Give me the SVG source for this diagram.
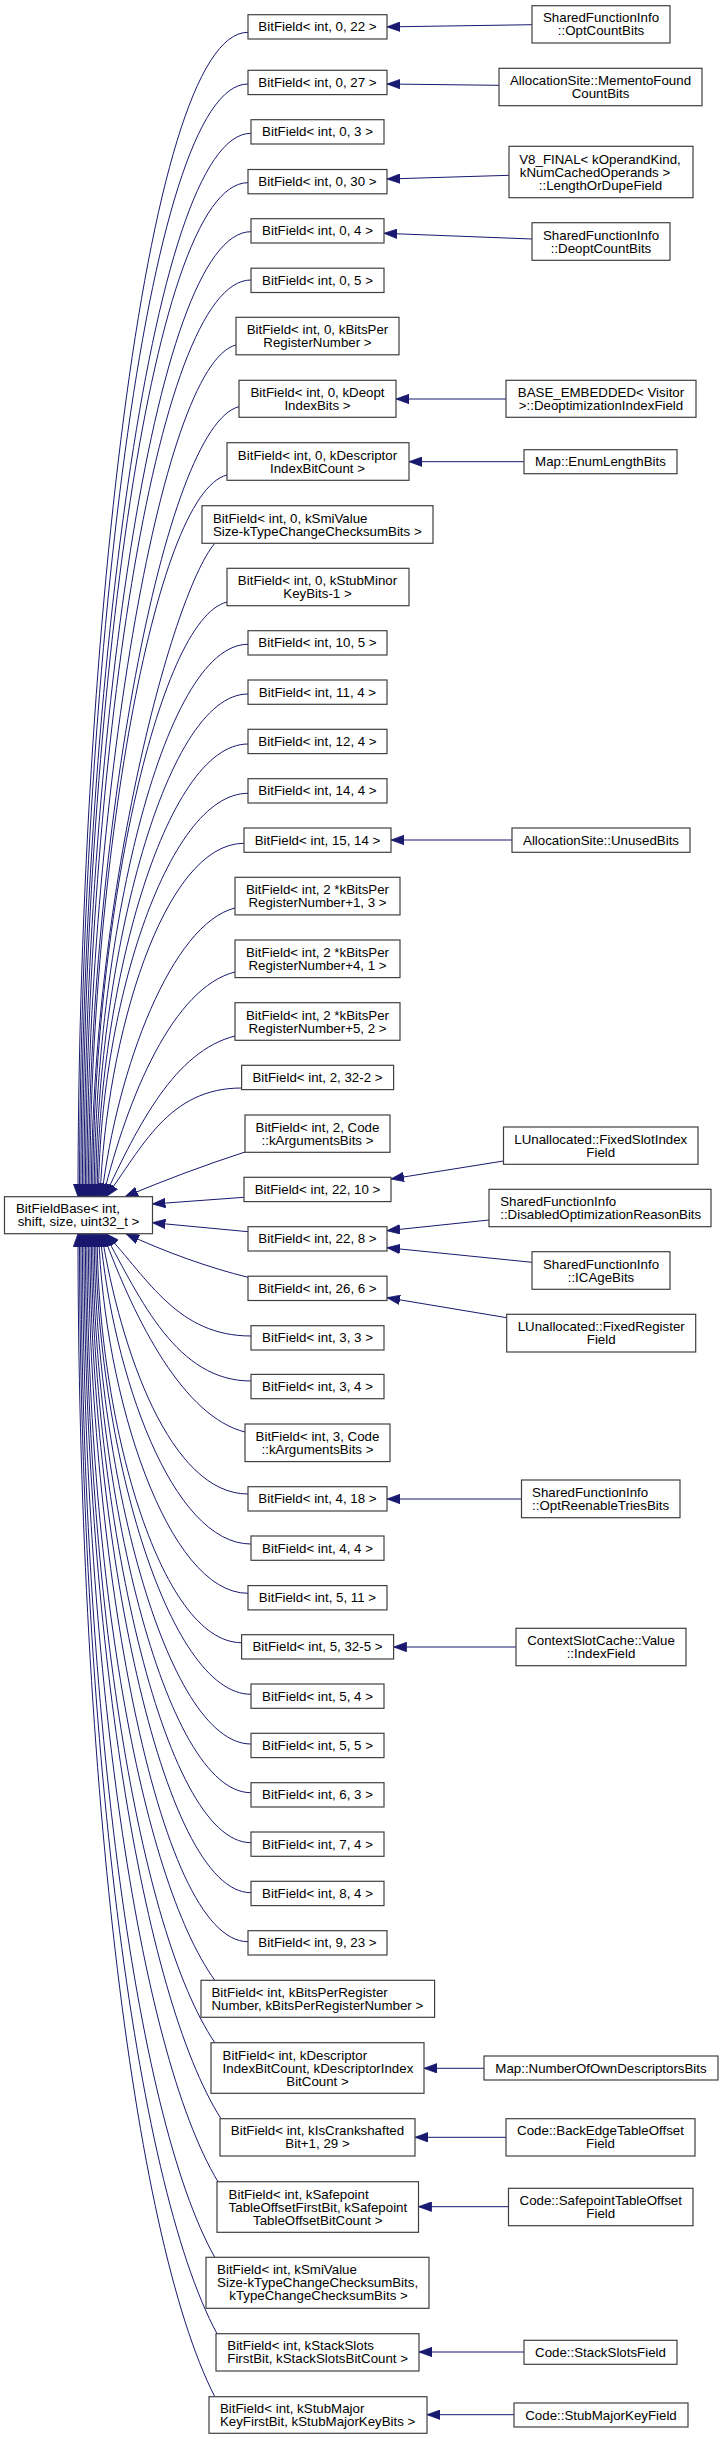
<svg xmlns="http://www.w3.org/2000/svg" width="723" height="2439" viewBox="0 0 723 2439">
<style>
.n rect{fill:#fff;stroke:#404040;stroke-width:1.2}
text{font-family:"Liberation Sans",Arial,Helvetica,sans-serif;font-size:13.3px;fill:#000}
.c{text-anchor:middle}
.l{text-anchor:start}
#edges path{fill:none;stroke:#191970;stroke-width:1;marker-end:url(#ah)}
</style>
<defs>
<marker id="ah" markerUnits="userSpaceOnUse" markerWidth="14" markerHeight="10" viewBox="0 0 14 10" refX="13" refY="5" orient="auto">
<path d="M0,0.3 L13,5 L0,9.7 z" fill="#191970" stroke="#191970" stroke-width="0.8"/>
</marker>
</defs>
<rect width="723" height="2439" fill="#fff"/>
<g id="edges">
<path d="M248,32.3 C143,32.3 78,672.7 78,1196.7"/>
<path d="M248,84 C144.6,84 79.5,696 79.5,1196.7"/>
<path d="M251,133.3 C149.1,133.3 80.9,718.2 80.9,1196.7"/>
<path d="M248,182.7 C147.6,182.7 82.4,740.4 82.4,1196.7"/>
<path d="M251,231.7 C152,231.7 83.9,762.4 83.9,1196.7"/>
<path d="M251,280 C153.5,280 85.4,784.2 85.4,1196.7"/>
<path d="M236,345 C159.5,364.1 86.8,813.4 86.8,1196.7"/>
<path d="M239,406.7 C164,425.4 88.3,841.2 88.3,1196.7"/>
<path d="M227,475 C153.6,493.3 89.8,871.9 89.8,1196.7"/>
<path d="M214.8,543.3 C170,597 91.3,902.7 91.3,1196.7"/>
<path d="M227,602 C156.8,619.6 92.7,929.1 92.7,1196.7"/>
<path d="M248,644.3 C161.4,644.3 94.2,948.1 94.2,1196.7"/>
<path d="M248,694 C162.9,694 95.7,970.5 95.7,1196.7"/>
<path d="M248,744 C164.4,744 97.2,993 97.2,1196.7"/>
<path d="M248,793.3 C165.9,793.3 98.6,1015.2 98.6,1196.7"/>
<path d="M244,843.3 C163.4,843.3 106,1037.7 100.1,1196.7"/>
<path d="M235,908 C172,923.7 117.3,1066.8 101.6,1196.7"/>
<path d="M235,972 C173.6,987.3 127.8,1095.6 103.1,1196.7"/>
<path d="M235,1036 C175.2,1051 138.4,1124.4 104.6,1196.7"/>
<path d="M241.6,1088 C168.3,1088 142.3,1147.8 106,1196.7"/>
<path d="M245,1152 C205,1165 165,1180 125,1196.7"/>
<path d="M244,1197.3 L152.4,1204"/>
<path d="M248,1231.7 L152.4,1222.7"/>
<path d="M248,1277.3 C210,1268 165,1252 126,1233.7"/>
<path d="M251,1336 C177.9,1336 148.8,1279.7 106,1233.7"/>
<path d="M251,1381 C176.6,1381 141,1300 104.5,1233.7"/>
<path d="M245,1432 C184.2,1416.8 135.8,1322.9 103.1,1233.7"/>
<path d="M248,1494 C170.2,1494 120.8,1350.8 101.6,1233.7"/>
<path d="M251,1544 C171.7,1544 112.9,1373.3 100.1,1233.7"/>
<path d="M248,1593.3 C167.2,1593.3 104.1,1395.5 98.6,1233.7"/>
<path d="M241.6,1642.7 C159.3,1642.7 97.2,1417.7 97.2,1233.7"/>
<path d="M251,1694.3 C167.2,1694.3 95.7,1441 95.7,1233.7"/>
<path d="M251,1744 C165.7,1744 94.2,1463.3 94.2,1233.7"/>
<path d="M251,1792.7 C164.2,1792.7 92.7,1485.3 92.7,1233.7"/>
<path d="M251,1842.7 C162.7,1842.7 91.3,1507.7 91.3,1233.7"/>
<path d="M251,1892.7 C161.2,1892.7 89.8,1530.3 89.8,1233.7"/>
<path d="M248,1941.7 C156.8,1941.7 88.3,1552.3 88.3,1233.7"/>
<path d="M214.8,1980.3 C139.9,1875.8 86.8,1569.7 86.8,1233.7"/>
<path d="M214.8,2042.7 C138.6,1929.4 85.4,1597.7 85.4,1233.7"/>
<path d="M221,2118.7 C142.3,1994.8 83.9,1632 83.9,1233.7"/>
<path d="M218,2181.7 C138,2049 82.4,1660.3 82.4,1233.7"/>
<path d="M214.8,2257.3 C134.3,2114 80.9,1694.3 80.9,1233.7"/>
<path d="M217,2333.7 C134,2179.7 79.5,1728.7 79.5,1233.7"/>
<path d="M214.8,2396.7 C131.5,2233.9 78,1757.1 78,1233.7"/>
<path d="M532,24.7 L387,26.9"/>
<path d="M499,85.3 L387,84"/>
<path d="M509,175.3 L387,179"/>
<path d="M532,239 L384,233.3"/>
<path d="M506,399 L396,399"/>
<path d="M524,461.7 L409,461.7"/>
<path d="M512,840 L391,840"/>
<path d="M503.5,1161 L391,1179"/>
<path d="M489,1220 L387,1230.7"/>
<path d="M532,1262.3 L387,1247.7"/>
<path d="M506.7,1317.7 L387,1297.7"/>
<path d="M521.5,1499 L387,1499"/>
<path d="M516,1647 L393.6,1647"/>
<path d="M484,2068.3 L424,2068.3"/>
<path d="M506,2137.3 L415,2137.3"/>
<path d="M508.5,2206.7 L418.5,2206.7"/>
<path d="M524,2352 L419,2352"/>
<path d="M514,2414.7 L427,2414.7"/>
</g>
<g id="base" class="n"><rect x="4.5" y="1196.7" width="148" height="37"/><text class="l" x="16" y="1213.3">BitFieldBase&lt; int,</text><text class="c" x="78.5" y="1226.3">shift, size, uint32_t &gt;</text></g>
<g id="n1" class="n"><rect x="248" y="14.7" width="139" height="24.3"/><text class="c" x="317.5" y="31.45">BitField&lt; int, 0, 22 &gt;</text></g>
<g id="n2" class="n"><rect x="248" y="70.3" width="139" height="24.3"/><text class="c" x="317.5" y="87.05">BitField&lt; int, 0, 27 &gt;</text></g>
<g id="n3" class="n"><rect x="251" y="119.7" width="133" height="24.3"/><text class="c" x="317.5" y="136.45">BitField&lt; int, 0, 3 &gt;</text></g>
<g id="n4" class="n"><rect x="248" y="169.5" width="139" height="24.3"/><text class="c" x="317.5" y="186.25">BitField&lt; int, 0, 30 &gt;</text></g>
<g id="n5" class="n"><rect x="251" y="218.7" width="133" height="24.3"/><text class="c" x="317.5" y="235.45">BitField&lt; int, 0, 4 &gt;</text></g>
<g id="n6" class="n"><rect x="251" y="268.2" width="133" height="24.3"/><text class="c" x="317.5" y="284.95">BitField&lt; int, 0, 5 &gt;</text></g>
<g id="n7" class="n"><rect x="236" y="317.3" width="163" height="37.5"/><text class="c" x="317.5" y="334.1">BitField&lt; int, 0, kBitsPer</text><text class="c" x="317.5" y="347.1">RegisterNumber &gt;</text></g>
<g id="n8" class="n"><rect x="239" y="380.3" width="157" height="37"/><text class="c" x="317.5" y="396.9">BitField&lt; int, 0, kDeopt</text><text class="c" x="317.5" y="409.9">IndexBits &gt;</text></g>
<g id="n9" class="n"><rect x="227" y="442.7" width="182" height="37.6"/><text class="c" x="317.5" y="459.6">BitField&lt; int, 0, kDescriptor</text><text class="c" x="317.5" y="472.6">IndexBitCount &gt;</text></g>
<g id="n10" class="n"><rect x="202" y="505.7" width="231" height="37.6"/><text class="l" x="212.9" y="522.6">BitField&lt; int, 0, kSmiValue</text><text class="l" x="212.9" y="535.6">Size-kTypeChangeChecksumBits &gt;</text></g>
<g id="n11" class="n"><rect x="227" y="568.3" width="182" height="37.4"/><text class="c" x="317.5" y="585.1">BitField&lt; int, 0, kStubMinor</text><text class="c" x="317.5" y="598.1">KeyBits-1 &gt;</text></g>
<g id="n12" class="n"><rect x="248" y="630.7" width="139" height="24.3"/><text class="c" x="317.5" y="647.45">BitField&lt; int, 10, 5 &gt;</text></g>
<g id="n13" class="n"><rect x="248" y="680" width="139" height="24.3"/><text class="c" x="317.5" y="696.75">BitField&lt; int, 11, 4 &gt;</text></g>
<g id="n14" class="n"><rect x="248" y="729.3" width="139" height="24.3"/><text class="c" x="317.5" y="746.05">BitField&lt; int, 12, 4 &gt;</text></g>
<g id="n15" class="n"><rect x="248" y="778.7" width="139" height="24.3"/><text class="c" x="317.5" y="795.45">BitField&lt; int, 14, 4 &gt;</text></g>
<g id="n16" class="n"><rect x="244" y="828" width="147" height="24.3"/><text class="c" x="317.5" y="844.75">BitField&lt; int, 15, 14 &gt;</text></g>
<g id="n17" class="n"><rect x="235" y="877.3" width="165" height="37.6"/><text class="c" x="317.5" y="894.2">BitField&lt; int, 2 *kBitsPer</text><text class="c" x="317.5" y="907.2">RegisterNumber+1, 3 &gt;</text></g>
<g id="n18" class="n"><rect x="235" y="940" width="165" height="37.6"/><text class="c" x="317.5" y="956.9">BitField&lt; int, 2 *kBitsPer</text><text class="c" x="317.5" y="969.9">RegisterNumber+4, 1 &gt;</text></g>
<g id="n19" class="n"><rect x="235" y="1002.7" width="165" height="37.6"/><text class="c" x="317.5" y="1019.6">BitField&lt; int, 2 *kBitsPer</text><text class="c" x="317.5" y="1032.6">RegisterNumber+5, 2 &gt;</text></g>
<g id="n20" class="n"><rect x="241.6" y="1065.3" width="152" height="24.3"/><text class="c" x="317.5" y="1082.05">BitField&lt; int, 2, 32-2 &gt;</text></g>
<g id="n21" class="n"><rect x="245" y="1115" width="145" height="37.3"/><text class="c" x="317.5" y="1131.75">BitField&lt; int, 2, Code</text><text class="c" x="317.5" y="1144.75">::kArgumentsBits &gt;</text></g>
<g id="n22" class="n"><rect x="244" y="1177.3" width="147" height="24.3"/><text class="c" x="317.5" y="1194.05">BitField&lt; int, 22, 10 &gt;</text></g>
<g id="n23" class="n"><rect x="248" y="1226.7" width="139" height="24.3"/><text class="c" x="317.5" y="1243.45">BitField&lt; int, 22, 8 &gt;</text></g>
<g id="n24" class="n"><rect x="248" y="1276.2" width="139" height="24.3"/><text class="c" x="317.5" y="1292.95">BitField&lt; int, 26, 6 &gt;</text></g>
<g id="n25" class="n"><rect x="251" y="1325.7" width="133" height="24.3"/><text class="c" x="317.5" y="1342.45">BitField&lt; int, 3, 3 &gt;</text></g>
<g id="n26" class="n"><rect x="251" y="1374.4" width="133" height="24.3"/><text class="c" x="317.5" y="1391.15">BitField&lt; int, 3, 4 &gt;</text></g>
<g id="n27" class="n"><rect x="245" y="1424" width="145" height="37.6"/><text class="c" x="317.5" y="1440.9">BitField&lt; int, 3, Code</text><text class="c" x="317.5" y="1453.9">::kArgumentsBits &gt;</text></g>
<g id="n28" class="n"><rect x="248" y="1486.7" width="139" height="24.3"/><text class="c" x="317.5" y="1503.45">BitField&lt; int, 4, 18 &gt;</text></g>
<g id="n29" class="n"><rect x="251" y="1536" width="133" height="24.3"/><text class="c" x="317.5" y="1552.75">BitField&lt; int, 4, 4 &gt;</text></g>
<g id="n30" class="n"><rect x="248" y="1585.6" width="139" height="24.3"/><text class="c" x="317.5" y="1602.35">BitField&lt; int, 5, 11 &gt;</text></g>
<g id="n31" class="n"><rect x="241.6" y="1634.7" width="152" height="24.3"/><text class="c" x="317.5" y="1651.45">BitField&lt; int, 5, 32-5 &gt;</text></g>
<g id="n32" class="n"><rect x="251" y="1684" width="133" height="24.3"/><text class="c" x="317.5" y="1700.75">BitField&lt; int, 5, 4 &gt;</text></g>
<g id="n33" class="n"><rect x="251" y="1733.3" width="133" height="24.3"/><text class="c" x="317.5" y="1750.05">BitField&lt; int, 5, 5 &gt;</text></g>
<g id="n34" class="n"><rect x="251" y="1782.7" width="133" height="24.3"/><text class="c" x="317.5" y="1799.45">BitField&lt; int, 6, 3 &gt;</text></g>
<g id="n35" class="n"><rect x="251" y="1832" width="133" height="24.3"/><text class="c" x="317.5" y="1848.75">BitField&lt; int, 7, 4 &gt;</text></g>
<g id="n36" class="n"><rect x="251" y="1881.3" width="133" height="24.3"/><text class="c" x="317.5" y="1898.05">BitField&lt; int, 8, 4 &gt;</text></g>
<g id="n37" class="n"><rect x="248" y="1930.7" width="139" height="24.3"/><text class="c" x="317.5" y="1947.45">BitField&lt; int, 9, 23 &gt;</text></g>
<g id="n38" class="n"><rect x="201" y="1980.3" width="233.6" height="37"/><text class="l" x="211.5" y="1996.9">BitField&lt; int, kBitsPerRegister</text><text class="l" x="211.5" y="2009.9">Number, kBitsPerRegisterNumber &gt;</text></g>
<g id="n39" class="n"><rect x="211" y="2042.7" width="213" height="50.6"/><text class="l" x="222.6" y="2059.6">BitField&lt; int, kDescriptor</text><text class="l" x="222.6" y="2072.6">IndexBitCount, kDescriptorIndex</text><text class="c" x="317.5" y="2085.6">BitCount &gt;</text></g>
<g id="n40" class="n"><rect x="220" y="2118.7" width="195" height="37.3"/><text class="c" x="317.5" y="2135.45">BitField&lt; int, kIsCrankshafted</text><text class="c" x="317.5" y="2148.45">Bit+1, 29 &gt;</text></g>
<g id="n41" class="n"><rect x="217" y="2181.7" width="201.5" height="50.6"/><text class="l" x="228.6" y="2198.6">BitField&lt; int, kSafepoint</text><text class="l" x="228.6" y="2211.6">TableOffsetFirstBit, kSafepoint</text><text class="c" x="317.8" y="2224.6">TableOffsetBitCount &gt;</text></g>
<g id="n42" class="n"><rect x="206" y="2257.3" width="223" height="51"/><text class="l" x="217.1" y="2274.4">BitField&lt; int, kSmiValue</text><text class="l" x="217.1" y="2287.4">Size-kTypeChangeChecksumBits,</text><text class="c" x="318.5" y="2300.4">kTypeChangeChecksumBits &gt;</text></g>
<g id="n43" class="n"><rect x="216" y="2333.7" width="203" height="37.3"/><text class="l" x="227.3" y="2350.45">BitField&lt; int, kStackSlots</text><text class="l" x="227.3" y="2363.45">FirstBit, kStackSlotsBitCount &gt;</text></g>
<g id="n44" class="n"><rect x="209" y="2396.7" width="218" height="36.6"/><text class="l" x="219.9" y="2413.1">BitField&lt; int, kStubMajor</text><text class="l" x="219.9" y="2426.1">KeyFirstBit, kStubMajorKeyBits &gt;</text></g>
<g id="c1" class="n"><rect x="532" y="5.7" width="138" height="37.3"/><text class="c" x="601" y="22.45">SharedFunctionInfo</text><text class="c" x="601" y="35.45">::OptCountBits</text></g>
<g id="c2" class="n"><rect x="499" y="68.3" width="203" height="37.4"/><text class="c" x="600.5" y="85.1">AllocationSite::MementoFound</text><text class="c" x="600.5" y="98.1">CountBits</text></g>
<g id="c4" class="n"><rect x="509" y="146.3" width="184" height="51.4"/><text class="c" x="600" y="163.9">V8_FINAL&lt; kOperandKind,</text><text class="c" x="595" y="177.3">kNumCachedOperands &gt;</text><text class="c" x="600.5" y="190.3">::LengthOrDupeField</text></g>
<g id="c5" class="n"><rect x="532" y="222.7" width="138" height="37.6"/><text class="c" x="601" y="239.6">SharedFunctionInfo</text><text class="c" x="601" y="252.6">::DeoptCountBits</text></g>
<g id="c8" class="n"><rect x="506" y="380.3" width="190" height="37"/><text class="c" x="601" y="396.9">BASE_EMBEDDED&lt; Visitor</text><text class="c" x="601" y="409.9">&gt;::DeoptimizationIndexField</text></g>
<g id="c9" class="n"><rect x="524" y="449.7" width="153" height="24"/><text class="c" x="600.5" y="466.3">Map::EnumLengthBits</text></g>
<g id="c16" class="n"><rect x="512" y="828" width="178" height="24.3"/><text class="c" x="601" y="844.75">AllocationSite::UnusedBits</text></g>
<g id="c22" class="n"><rect x="503.5" y="1127" width="194.5" height="37.3"/><text class="c" x="600.75" y="1143.75">LUnallocated::FixedSlotIndex</text><text class="c" x="600.75" y="1156.75">Field</text></g>
<g id="c23a" class="n"><rect x="489" y="1189.3" width="222" height="37.4"/><text class="l" x="500.2" y="1206.1">SharedFunctionInfo</text><text class="l" x="500.2" y="1219.1">::DisabledOptimizationReasonBits</text></g>
<g id="c23b" class="n"><rect x="532" y="1251.7" width="138" height="37.6"/><text class="c" x="601" y="1268.6">SharedFunctionInfo</text><text class="c" x="601" y="1281.6">::ICAgeBits</text></g>
<g id="c24" class="n"><rect x="506.7" y="1314.3" width="189" height="37.7"/><text class="c" x="601.2" y="1331.25">LUnallocated::FixedRegister</text><text class="c" x="601.2" y="1344.25">Field</text></g>
<g id="c28" class="n"><rect x="521.5" y="1480" width="158.5" height="37.7"/><text class="l" x="532.1" y="1496.95">SharedFunctionInfo</text><text class="l" x="532.1" y="1509.95">::OptReenableTriesBits</text></g>
<g id="c31" class="n"><rect x="516" y="1628.3" width="170" height="37.4"/><text class="c" x="601" y="1645.1">ContextSlotCache::Value</text><text class="c" x="601" y="1658.1">::IndexField</text></g>
<g id="c39" class="n"><rect x="484" y="2056" width="234" height="24"/><text class="c" x="601" y="2072.6">Map::NumberOfOwnDescriptorsBits</text></g>
<g id="c40" class="n"><rect x="506" y="2118.7" width="189" height="37.3"/><text class="c" x="600.5" y="2135.45">Code::BackEdgeTableOffset</text><text class="c" x="600.5" y="2148.45">Field</text></g>
<g id="c41" class="n"><rect x="508.5" y="2188.3" width="184.5" height="37.4"/><text class="c" x="600.75" y="2205.1">Code::SafepointTableOffset</text><text class="c" x="600.75" y="2218.1">Field</text></g>
<g id="c43" class="n"><rect x="524" y="2340.3" width="153" height="24"/><text class="c" x="600.5" y="2356.9">Code::StackSlotsField</text></g>
<g id="c44" class="n"><rect x="514" y="2403" width="174" height="24"/><text class="c" x="601" y="2419.6">Code::StubMajorKeyField</text></g>
</svg>
